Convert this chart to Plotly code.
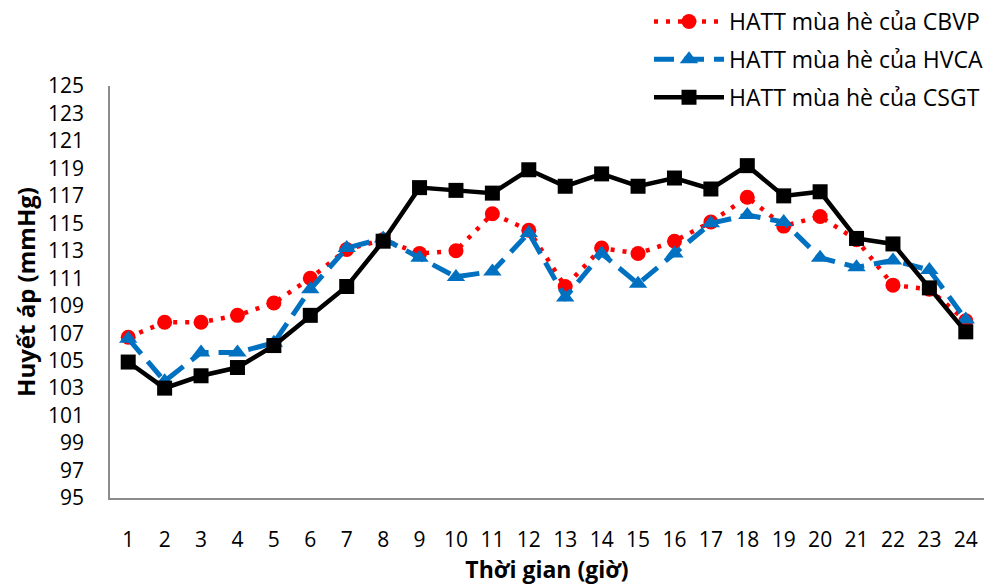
import plotly.graph_objects as go

hours = list(range(1, 25))

cbvp = [106.7, 107.8, 107.8, 108.3, 109.2, 111.0, 113.1, 113.8, 112.8, 113.0, 115.7, 114.5,
        110.4, 113.2, 112.8, 113.7, 115.1, 116.9, 114.8, 115.5, 113.8, 110.5, 110.2, 107.9]
hvca = [106.6, 103.5, 105.6, 105.6, 106.3, 110.2, 113.2, 113.9, 112.5, 111.1, 111.5, 114.3,
        109.6, 112.8, 110.6, 112.8, 115.0, 115.6, 115.1, 112.5, 111.8, 112.3, 111.6, 108.0]
csgt = [104.9, 103.0, 103.9, 104.5, 106.1, 108.3, 110.4, 113.7, 117.6, 117.4, 117.2, 118.9,
        117.7, 118.6, 117.7, 118.3, 117.5, 119.2, 117.0, 117.3, 113.9, 113.5, 110.3, 107.1]

names = ["HATT mùa hè của CBVP", "HATT mùa hè của HVCA", "HATT mùa hè của CSGT"]
y_ticks = list(range(95, 126, 2))

FONT = "Open Sans"

fig = go.Figure()
fig.add_trace(go.Scatter(
    x=hours, y=cbvp, name=names[0], mode="lines+markers", legendgroup="a",
    line=dict(color="#ff0000", width=4.5, dash="4px,8px"),
    marker=dict(symbol="circle", size=15, color="#ff0000"),
))
fig.add_trace(go.Scatter(
    x=hours, y=hvca, name=names[1], mode="lines+markers", legendgroup="b",
    line=dict(color="#0070c0", width=5, dash="20px,10px"),
    marker=dict(symbol="triangle-up", size=16, color="#0070c0"),
))
fig.add_trace(go.Scatter(
    x=hours, y=csgt, name=names[2], mode="lines+markers", legendgroup="c",
    line=dict(color="#000000", width=4.5),
    marker=dict(symbol="square", size=15, color="#000000"),
))

fig.update_layout(
    width=988, height=585,
    margin=dict(l=110, r=4, t=86, b=87, autoexpand=False),
    paper_bgcolor="white", plot_bgcolor="white",
    font=dict(family=FONT, size=21, color="#000000"),
    showlegend=True,
    legend=dict(
        xref="container", yref="container",
        x=1.0, y=1.0, xanchor="right", yanchor="top",
        font=dict(family=FONT, size=23, color="#000000"),
        itemwidth=70, tracegroupgap=5,
        bgcolor="rgba(0,0,0,0)",
    ),
    xaxis=dict(
        range=[0.5, 24.5], tickmode="array", tickvals=hours,
        ticktext=[str(h) for h in hours],
        showgrid=False, zeroline=False,
        showline=True, linecolor="#8c8c8c", linewidth=1.5,
        ticks="", ticklabelstandoff=22,
        tickfont=dict(family=FONT, size=21),
        title=dict(text="<b>Thời gian (giờ)</b>", font=dict(family=FONT, size=23), standoff=14),
    ),
    yaxis=dict(
        range=[95, 125], tickmode="array", tickvals=y_ticks,
        ticktext=[str(v) for v in y_ticks],
        showgrid=False, zeroline=False,
        showline=True, linecolor="#8c8c8c", linewidth=1.5,
        ticks="", ticklabelstandoff=20,
        tickfont=dict(family=FONT, size=21),
        title=dict(text="<b>Huyết áp (mmHg)</b>", font=dict(family=FONT, size=24), standoff=6),
    ),
)

fig.write_html("out.html")
